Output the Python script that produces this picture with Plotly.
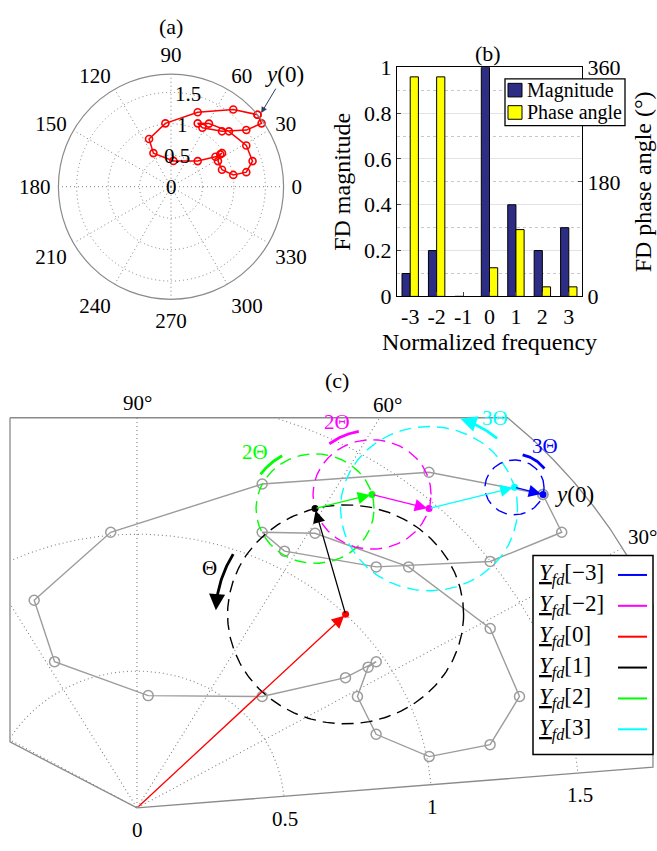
import numpy as np
import plotly.graph_objects as go

# ---------------- data ----------------
freq = [-3, -2, -1, 0, 1, 2, 3]
freq_labels = ["-3", "-2", "-1", "0", "1", "2", "3"]
fd_magnitude = [0.1, 0.2, 0.0, 1.0, 0.4, 0.2, 0.3]
fd_phase_deg = [345, 345, None, 45, 105, 15, 15]
bar_series = ["Magnitude", "Phase angle"]

# samples y(n), n = 0..23 (radius, angle in degrees)
sample_r = [1.790, 1.576, 1.257, 1.011, 0.835, 0.603, 0.412, 0.588, 0.852, 0.971,
            0.937, 0.851, 0.854, 1.008, 1.219, 1.359, 1.365, 1.274, 1.171, 1.093,
            1.063, 1.197, 1.498, 1.757]
sample_theta = [39.77, 51.10, 70.27, 95.06, 114.67, 117.61, 84.72, 43.82, 33.95, 33.37,
                33.28, 28.59, 18.36, 10.72, 10.93, 17.43, 28.70, 43.72, 58.98, 67.16,
                61.94, 47.36, 36.95, 34.97]

radial_ticks = [0, 0.5, 1, 1.5]
radial_tick_labels = ["0", "0.5", "1", "1.5"]
angle_ticks = [0, 30, 60, 90, 120, 150, 180, 210, 240, 270, 300, 330]
angle_tick_labels = ["0", "30", "60", "90", "120", "150", "180", "210", "240", "270", "300", "330"]
zoom_angle_labels = [90, 60, 30]
zoom_radial_labels = [0, 0.5, 1, 1.5]
zoom_radial_text = ["0", "0.5", "1", "1.5"]

chain_order = [0, 1, 2, -2, 3, -3]
legend_order = [-3, -2, 0, 1, 2, 3]
rotation_labels = {1: "Θ", 2: "2Θ", -2: "2Θ", 3: "3Θ", -3: "3Θ"}

# ---------------- styles / layout geometry ----------------
W, H = 657, 851
FONT = "Liberation Serif"


def F(size, color="black"):
    return dict(family=FONT, size=size, color=color)


K_COLOR = {-3: "#0000ff", -2: "#ff00ff", 0: "#ff0000", 1: "#000000", 2: "#00ff00", 3: "#00ffff"}
BAR_COLOR = ["#2d2d85", "#ffff00"]
GRID = "#808080"
FRAME = "#8a8a8a"
TRAJ = "#9c9c9c"


def paper(px, py):
    return px / W, 1 - py / H


# panel (a) (pixels)
A_CX, A_CY, A_RAD = 171, 180, 116
A_RMAX = max(sample_r)
A_RLABEL_ANGLE = 80
# panel (b) (pixels)
B_L, B_R, B_T, B_B = 397, 582, 57, 293
B_LEG = (505, 69, 625, 117)
# panel (c): origin pixel and pixels per unit
C_OX, C_OY, C_SX, C_SY, C_TOP = 137, 820, 295, 282, 390
FR_LEFT, FR_TOP, FR_RIGHT, FR_R = -0.4305, 1.4255, 1.749, 1.9
FR_ANG_BOTTOM, FR_ANG_LL = 4.86, 150.75
LABEL_R = {90: 1.48, 60: 1.70, 30: 1.98}
RLABEL_DROP = 0.082
# rotation arc: (arc radius, start angle, end angle, label radius, label angle)
ROT = {1: (0.44, 150, 178, 0.49, 160),
       2: (0.223, 120, 150, 0.29, 135),
       -2: (0.235, 128, 97, 0.29, 114),
       3: (0.345, 48, 72, 0.40, 56),
       -3: (0.122, 77, 30, 0.183, 56)}

fig = go.Figure()

# ================= (a) polar plot =================
fig.add_trace(go.Scatterpolar(
    r=sample_r + [sample_r[0]], theta=sample_theta + [sample_theta[0]],
    mode="lines+markers", subplot="polar",
    line=dict(color="#ff0000", width=1.5),
    marker=dict(symbol="circle-open", size=7, color="#ff0000", line=dict(width=1.6)),
    showlegend=False, hoverinfo="skip"))

# ================= (b) bar chart =================
fig.add_trace(go.Bar(x=freq, y=fd_magnitude, name=bar_series[0], xaxis="x", yaxis="y",
                     width=0.31, offset=-0.31, showlegend=False,
                     marker=dict(color=BAR_COLOR[0], line=dict(color="black", width=1))))
fig.add_trace(go.Bar(x=freq, y=fd_phase_deg, name=bar_series[1], xaxis="x", yaxis="y2",
                     width=0.31, offset=0, showlegend=False,
                     marker=dict(color=BAR_COLOR[1], line=dict(color="black", width=1))))

# ================= (c) zoomed phasor diagram =================
def pol2xy(r, deg):
    a = np.radians(deg)
    return r * np.cos(a), r * np.sin(a)


tb = np.degrees(np.arctan2(FR_TOP, np.sqrt(FR_R ** 2 - FR_TOP ** 2)))
tc = np.degrees(np.arctan2(np.sqrt(FR_R ** 2 - FR_RIGHT ** 2), FR_RIGHT))
arc = np.radians(np.linspace(tb, tc, 80))
frame_x = [FR_LEFT] + list(FR_R * np.cos(arc)) + [FR_RIGHT, 0.0, FR_LEFT, FR_LEFT]
frame_y = ([FR_TOP] + list(FR_R * np.sin(arc)) +
           [FR_RIGHT * np.tan(np.radians(FR_ANG_BOTTOM)), 0.0,
            FR_LEFT * np.tan(np.radians(FR_ANG_LL)), FR_TOP])
poly = np.column_stack([frame_x, frame_y])


def inside(xs, ys):
    px, py = poly[:, 0], poly[:, 1]
    res = np.zeros(len(xs), dtype=bool)
    j = len(px) - 1
    for i in range(len(px)):
        den = (py[j] - py[i])
        if den == 0:
            j = i
            continue
        cond = ((py[i] > ys) != (py[j] > ys)) & (xs < (px[j] - px[i]) * (ys - py[i]) / den + px[i])
        res ^= cond
        j = i
    return res


gx, gy = [], []
for r in radial_ticks[1:]:
    ph = np.radians(np.linspace(0, 360, 900))
    xs, ys = r * np.cos(ph), r * np.sin(ph)
    m = inside(xs, ys)
    gx += [float(x) if k else None for x, k in zip(xs, m)] + [None]
    gy += [float(y) if k else None for y, k in zip(ys, m)] + [None]
for a in angle_ticks:
    t = np.linspace(0.003, FR_R, 400)
    xs, ys = pol2xy(t, a)
    m = inside(xs, ys)
    gx += [float(x) if k else None for x, k in zip(xs, m)] + [None]
    gy += [float(y) if k else None for y, k in zip(ys, m)] + [None]
fig.add_trace(go.Scatter(x=gx, y=gy, mode="lines", xaxis="x3", yaxis="y3",
                         line=dict(color=GRID, width=1.1, dash="1px,3px"),
                         showlegend=False, hoverinfo="skip", connectgaps=False))
fig.add_trace(go.Scatter(x=frame_x, y=frame_y, mode="lines", xaxis="x3", yaxis="y3",
                         line=dict(color=FRAME, width=1.3), showlegend=False, hoverinfo="skip"))

# trajectory
tx, ty = pol2xy(np.array(sample_r + [sample_r[0]]), np.array(sample_theta + [sample_theta[0]]))
fig.add_trace(go.Scatter(x=tx, y=ty, mode="lines+markers", xaxis="x3", yaxis="y3",
                         line=dict(color=TRAJ, width=1.4),
                         marker=dict(symbol="circle-open", size=10, color=TRAJ, line=dict(width=1.5)),
                         showlegend=False, hoverinfo="skip"))

# phasor chain
coef = {}
for k, m_, p_ in zip(freq, fd_magnitude, fd_phase_deg):
    if m_ > 0:
        coef[k] = (m_, p_)
starts, ends = {}, {}
cur = np.array([0.0, 0.0])
for k in chain_order:
    m_, p_ = coef[k]
    d = np.array(pol2xy(m_, p_))
    starts[k] = cur.copy()
    ends[k] = cur + d
    cur = cur + d

annotations = []
# dashed rotation circles
for k in chain_order:
    if k == 0:
        continue
    m_, _ = coef[k]
    ph = np.radians(np.linspace(0, 360, 240))
    fig.add_trace(go.Scatter(x=starts[k][0] + m_ * np.cos(ph), y=starts[k][1] + m_ * np.sin(ph),
                             mode="lines", xaxis="x3", yaxis="y3",
                             line=dict(color=K_COLOR[k], width=1.4, dash="12px,7px"),
                             showlegend=False, hoverinfo="skip"))
# rotation arcs
for k in chain_order:
    if k == 0:
        continue
    ar, a0, a1, lr, la = ROT[k]
    c = starts[k]
    step = 4 if a1 > a0 else -4
    angs = np.linspace(a0, a1 - step, 40)
    ax_, ay_ = pol2xy(ar, angs)
    fig.add_trace(go.Scatter(x=c[0] + ax_, y=c[1] + ay_, mode="lines", xaxis="x3", yaxis="y3",
                             line=dict(color=K_COLOR[k], width=2.8), showlegend=False, hoverinfo="skip"))
    hx, hy = pol2xy(ar, a1)
    bx, by = pol2xy(ar, a1 - step)
    annotations.append(dict(x=c[0] + hx, y=c[1] + hy, ax=c[0] + bx, ay=c[1] + by,
                            xref="x3", yref="y3", axref="x3", ayref="y3", text="",
                            showarrow=True, arrowhead=2, arrowsize=1.15, arrowwidth=2.8,
                            arrowcolor=K_COLOR[k]))
    lx, ly = pol2xy(lr, la)
    annotations.append(dict(x=c[0] + lx, y=c[1] + ly, xref="x3", yref="y3", text=rotation_labels[k],
                            showarrow=False, font=F(21, K_COLOR[k])))
# phasor arrows
for k in chain_order:
    s, e = starts[k], ends[k]
    annotations.append(dict(x=e[0], y=e[1], ax=s[0], ay=s[1], xref="x3", yref="y3",
                            axref="x3", ayref="y3", text="", showarrow=True, arrowhead=2,
                            arrowsize=1.9, arrowwidth=1.3, standoff=2, arrowcolor=K_COLOR[k]))
fig.add_trace(go.Scatter(x=[ends[k][0] for k in chain_order], y=[ends[k][1] for k in chain_order],
                         mode="markers", xaxis="x3", yaxis="y3",
                         marker=dict(size=7, color=[K_COLOR[k] for k in chain_order]),
                         showlegend=False, hoverinfo="skip"))

# labels in (c)
for a in zoom_angle_labels:
    lx, ly = pol2xy(LABEL_R[a], a)
    annotations.append(dict(x=lx, y=ly, xref="x3", yref="y3", text=f"{a}°", showarrow=False,
                            font=F(21)))
for r, t in zip(zoom_radial_labels, zoom_radial_text):
    annotations.append(dict(x=r, y=r * np.tan(np.radians(FR_ANG_BOTTOM)) - RLABEL_DROP,
                            xref="x3", yref="y3", text=t, showarrow=False, font=F(21)))
y0x, y0y = pol2xy(sample_r[0], sample_theta[0])
annotations.append(dict(x=y0x + 0.035, y=y0y, xref="x3", yref="y3", text="<i>y</i>(0)",
                        xanchor="left", showarrow=False, font=F(23)))

shapes = []
# custom legend for (c)
LEG_L, LEG_T, LEG_R, LEG_B = 533, 560, 653, 765
x0p, y0p = paper(LEG_L, LEG_T)
x1p, y1p = paper(LEG_R, LEG_B)
shapes.append(dict(type="rect", xref="paper", yref="paper", x0=x0p, y0=y1p, x1=x1p, y1=y0p,
                   line=dict(color="black", width=1.5), fillcolor="white", layer="above"))
for i, k in enumerate(legend_order):
    rowy = 580 + 31.8 * i
    lab = "−" + str(-k) if k < 0 else str(k)
    tx_, ty_ = paper(537, rowy)
    annotations.append(dict(x=tx_, y=ty_, xref="paper", yref="paper", xanchor="left",
                            yanchor="middle",
                            text=f"<i><u>Y</u></i><sub><i>fd</i></sub>[{lab}]",
                            showarrow=False, font=F(23)))
    lx0, ly0 = paper(618, rowy)
    lx1, _ = paper(647, rowy)
    shapes.append(dict(type="line", xref="paper", yref="paper", x0=lx0, y0=ly0, x1=lx1, y1=ly0,
                       line=dict(color=K_COLOR[k], width=2), layer="above"))

# custom legend for (b)
bl, bt, br, bb = B_LEG
q0x, q0y = paper(bl, bt)
q1x, q1y = paper(br, bb)
shapes.append(dict(type="rect", xref="paper", yref="paper", x0=q0x, y0=q1y, x1=q1x, y1=q0y,
                   line=dict(color="black", width=1.3), fillcolor="white", layer="above"))
for i, name in enumerate(bar_series):
    rowy = bt + 11.5 + 23 * i
    s0x, s0y = paper(bl + 3, rowy - 7)
    s1x, s1y = paper(bl + 17, rowy + 7)
    shapes.append(dict(type="rect", xref="paper", yref="paper", x0=s0x, y0=s1y, x1=s1x, y1=s0y,
                       line=dict(color="black", width=1), fillcolor=BAR_COLOR[i], layer="above"))
    tx_, ty_ = paper(bl + 20, rowy)
    annotations.append(dict(x=tx_, y=ty_, xref="paper", yref="paper", xanchor="left",
                            yanchor="middle", text=name, showarrow=False, font=F(20)))

# (a) annotations
pa_x = A_CX + A_RAD * y0x / A_RMAX
pa_y = A_CY - A_RAD * y0y / A_RMAX
px_, py_ = paper(pa_x, pa_y)
annotations.append(dict(x=px_, y=py_, xref="paper", yref="paper", text="<i>y</i>(0)",
                        showarrow=True, ax=24, ay=-40, arrowhead=2, arrowsize=1.2,
                        arrowwidth=1, standoff=2, font=F(23)))
for r, t in zip(radial_ticks, radial_tick_labels):
    rx = A_CX + A_RAD * r / A_RMAX * np.cos(np.radians(A_RLABEL_ANGLE))
    ry = A_CY - A_RAD * r / A_RMAX * np.sin(np.radians(A_RLABEL_ANGLE))
    qx, qy = paper(rx, ry)
    annotations.append(dict(x=qx, y=qy, xref="paper", yref="paper", text=t, showarrow=False,
                            xanchor="center", yanchor="middle", font=F(21)))
for txt, (qx, qy) in [("(a)", (171, 15)), ("(b)", (488, 43)), ("(c)", (337, 380))]:
    ppx, ppy = paper(qx, qy)
    annotations.append(dict(x=ppx, y=ppy, xref="paper", yref="paper", text=txt,
                            xanchor="center", yanchor="middle",
                            showarrow=False, font=F(22)))

ax0, ay0 = paper(A_CX - A_RAD, A_CY + A_RAD)
ax1, ay1 = paper(A_CX + A_RAD, A_CY - A_RAD)
bx0, by0 = paper(B_L, B_B)
bx1, by1 = paper(B_R, B_T)

fig.update_layout(
    width=W, height=H, autosize=False, margin=dict(l=0, r=0, t=0, b=0),
    paper_bgcolor="white", plot_bgcolor="white",
    font=F(21),
    polar=dict(
        domain=dict(x=[ax0, ax1], y=[ay0, ay1]), bgcolor="white",
        radialaxis=dict(range=[0, A_RMAX], tickmode="array", tickvals=radial_ticks,
                        showticklabels=False, angle=A_RLABEL_ANGLE, showline=False,
                        ticks="", showgrid=True, gridcolor=GRID, griddash="1px,3px", gridwidth=1.1),
        angularaxis=dict(tickmode="array", tickvals=angle_ticks, ticktext=angle_tick_labels,
                         direction="counterclockwise", rotation=0, showline=True,
                         linecolor="#8a8a8a", linewidth=1.2, ticks="outside", ticklen=3,
                         tickcolor="rgba(0,0,0,0)", showgrid=True,
                         gridcolor=GRID, griddash="1px,3px", gridwidth=1.1, tickfont=F(21)),
    ),
    xaxis=dict(domain=[bx0, bx1], anchor="y", range=[-3.5, 3.5], tickmode="array",
               tickvals=freq, ticktext=freq_labels, ticks="inside", ticklen=4,
               showline=True, linecolor="black", linewidth=1, mirror=True, showgrid=False,
               zeroline=False, tickfont=F(22),
               title=dict(text="Normalized frequency", font=F(24), standoff=2)),
    yaxis=dict(domain=[by0, by1], anchor="x", range=[0, 1], tickmode="array",
               tickvals=[0, 0.2, 0.4, 0.6, 0.8, 1], ticktext=["0", "0.2", "0.4", "0.6", "0.8", "1"],
               ticks="inside", ticklen=4, showline=True, linecolor="black", linewidth=1,
               showgrid=True, gridcolor="#e3e3e3", zeroline=False,
               minor=dict(dtick=0.1, showgrid=True, gridcolor="#c8c8c8", griddash="dot"),
               tickfont=F(22),
               title=dict(text="FD magnitude", font=F(24), standoff=6)),
    yaxis2=dict(overlaying="y", anchor="x", side="right", range=[0, 360], tickmode="array",
                tickvals=[0, 180, 360], ticktext=["0", "180", "360"], ticks="inside", ticklen=4,
                showline=True, linecolor="black", linewidth=1, showgrid=False, zeroline=False,
                tickfont=F(22),
                title=dict(text="FD phase angle (°)", font=F(24), standoff=14)),
    xaxis3=dict(domain=[0, 1], anchor="y3", range=[-C_OX / C_SX, (W - C_OX) / C_SX],
                visible=False, showgrid=False, zeroline=False),
    yaxis3=dict(domain=[0, (H - C_TOP) / H], anchor="x3",
                range=[(C_OY - H) / C_SY, (C_OY - C_TOP) / C_SY],
                visible=False, showgrid=False, zeroline=False),
    barmode="group",
    showlegend=False,
    annotations=annotations, shapes=shapes,
)

fig.write_html("out.html")
